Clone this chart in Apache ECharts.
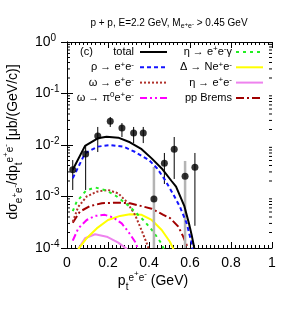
<!DOCTYPE html>
<html><head><meta charset="utf-8">
<script src="https://cdn.jsdelivr.net/npm/echarts@6/dist/echarts.min.js"></script>
<style>html,body{margin:0;padding:0;background:#fff}#c{width:300px;height:315px}</style>
</head><body><div id="c"></div>
<script>
const FONT = '"Liberation Sans", Arial, sans-serif';
// axis ticks
const xTicks = [0, 0.2, 0.4, 0.6, 0.8, 1];
const yTicks = [1e-4, 1e-3, 1e-2, 1e-1, 1];
const yMinorTicks = [2e-4,3e-4,4e-4,5e-4,6e-4,7e-4,8e-4,9e-4,
  2e-3,3e-3,4e-3,5e-3,6e-3,7e-3,8e-3,9e-3,
  2e-2,3e-2,4e-2,5e-2,6e-2,7e-2,8e-2,9e-2,
  2e-1,3e-1,4e-1,5e-1,6e-1,7e-1,8e-1,9e-1];
// measured data
const dataX    = [0.028,0.091,0.150,0.211,0.268,0.325,0.372,0.424,0.475,0.523,0.576,0.624];
const dataY    = [3.3e-3,6.7e-3,1.5e-2,2.9e-2,2.14e-2,1.71e-2,1.71e-2,8.9e-4,4.4e-3,8.3e-3,2.47e-3,3.7e-3];
const errLow   = [1.34e-3,1.34e-3,7.3e-3,2.24e-2,1.43e-2,1.09e-2,1.09e-2,8e-5,1.75e-3,2.19e-3,8e-5,2.7e-4];
const errHigh  = [5.1e-3,1.0e-2,2.24e-2,3.5e-2,2.67e-2,2.24e-2,2.24e-2,3.74e-3,7.0e-3,1.43e-2,4.9e-3,7.0e-3];
const errGray  = [0,0,0,0,0,0,0,1,0,0,1,0];
// model curves
const totalX = [0.028,0.088,0.150,0.193,0.250,0.307,0.364,0.413,0.462,0.510,0.532,0.572,0.595,0.608,0.623];
const totalY = [3.3e-3,9.6e-3,1.35e-2,1.45e-2,1.39e-2,1.13e-2,8.3e-3,5.5e-3,3.5e-3,2.0e-3,1.55e-3,6.6e-4,3.0e-4,1.8e-4,9e-5];
const rhoX = [0.028,0.088,0.150,0.210,0.275,0.330,0.400,0.440,0.478,0.520,0.551,0.584,0.608,0.614];
const rhoY = [2.26e-3,6.9e-3,9.3e-3,1.0e-2,9.3e-3,7.4e-3,5.1e-3,3.5e-3,2.1e-3,1.07e-3,6.3e-4,3.0e-4,1.24e-4,9e-5];
const etaGX = [0.028,0.047,0.093,0.137,0.194,0.243,0.307,0.372,0.420,0.462,0.475];
const etaGY = [5.2e-4,7.9e-4,1.3e-3,1.5e-3,1.3e-3,1.0e-3,6.3e-4,3.5e-4,2.1e-4,1.2e-4,9e-5];
const omegaX = [0.028,0.055,0.096,0.145,0.200,0.250,0.291,0.332,0.364,0.392,0.400];
const omegaY = [3.24e-4,6.3e-4,1.0e-3,1.24e-3,1.34e-3,1.15e-3,7.9e-4,4.4e-4,2.2e-4,1.15e-4,9e-5];
const bremsX = [0.028,0.063,0.112,0.170,0.242,0.307,0.364,0.413,0.470,0.503,0.543,0.567,0.587,0.592];
const bremsY = [3.1e-4,5.1e-4,6.5e-4,7.4e-4,7.6e-4,7.4e-4,6.5e-4,5.8e-4,4.4e-4,3.8e-4,2.6e-4,1.66e-4,1.06e-4,9e-5];
const omegaPiX = [0.028,0.055,0.096,0.137,0.185,0.226,0.267,0.299,0.332,0.350];
const omegaPiY = [1.39e-4,2.4e-4,3.5e-4,4.2e-4,4.4e-4,3.9e-4,3.0e-4,2.07e-4,1.32e-4,9e-5];
const deltaX = [0.055,0.096,0.145,0.200,0.259,0.307,0.364,0.413,0.462,0.502,0.522];
const deltaY = [9.5e-5,1.55e-4,2.4e-4,3.5e-4,4.2e-4,4.5e-4,4.4e-4,3.5e-4,2.24e-4,1.32e-4,9e-5];
const etaX = [0.055,0.088,0.137,0.194,0.250,0.293];
const etaY = [9.5e-5,1.55e-4,1.85e-4,1.66e-4,1.27e-4,9.5e-5];

const zip = (a, b) => a.map((v, i) => [v, b[i]]);

const styles = {
  total:   {color:'#000000', type:'solid', width:2},
  rho:     {color:'#1414ff', type:[4,3], width:2},
  omega:   {color:'#b0302a', type:[2,2], width:2},
  omegaPi: {color:'#ff00ff', type:[7,3,2,3,2,3], width:2},
  etaG:    {color:'#22ee22', type:[3,4], width:2},
  delta:   {color:'#ffff00', type:'solid', width:2},
  eta:     {color:'#ee82ee', type:'solid', width:2},
  brems:   {color:'#a00000', type:[8,3,2,3], width:2}
};

function lineSeries(name, xs, ys, st, z) {
  return {type:'line', name, data: zip(xs, ys), showSymbol:false, symbol:'none',
    lineStyle:{color:st.color, type:st.type, width:st.width}, itemStyle:{color:st.color},
    clip:true, z, animation:false, silent:true};
}

// rich text styles
const richLeg = {
  n: {fontSize:11, lineHeight:14, fontFamily:FONT, color:'#000'},
  s: {fontSize:8, lineHeight:8, verticalAlign:'top', fontFamily:FONT, color:'#000'}
};
const richAx = {
  n:  {fontSize:14, lineHeight:22, fontFamily:FONT, color:'#000'},
  sb: {fontSize:10, lineHeight:9, verticalAlign:'bottom', fontFamily:FONT, color:'#000'},
  sbs:{fontSize:8, lineHeight:7, verticalAlign:'bottom', padding:[0,0,5,0], fontFamily:FONT, color:'#000'},
  sp: {fontSize:10, lineHeight:9, verticalAlign:'top', padding:[3,0,0,0], fontFamily:FONT, color:'#000'},
  sps:{fontSize:8, lineHeight:7, verticalAlign:'top', fontFamily:FONT, color:'#000'}
};
const richTitle = {
  n:  {fontSize:10, lineHeight:16, fontFamily:FONT, color:'#000'},
  sb: {fontSize:7, lineHeight:7, verticalAlign:'bottom', padding:[0,0,1,0], fontFamily:FONT, color:'#000'},
  sbs:{fontSize:6, lineHeight:6, verticalAlign:'bottom', padding:[0,0,4,0], fontFamily:FONT, color:'#000'}
};

const legendItems = [
  {text:'{n|total}', st:styles.total, col:0, row:0},
  {text:'{n|ρ → e}{s|+}{n|e}{s|-}', st:styles.rho, col:0, row:1},
  {text:'{n|ω → e}{s|+}{n|e}{s|-}', st:styles.omega, col:0, row:2},
  {text:'{n|ω → π}{s|0}{n|e}{s|+}{n|e}{s|-}', st:styles.omegaPi, col:0, row:3},
  {text:'{n|η → e}{s|+}{n|e}{s|-}{n|γ}', st:styles.etaG, col:1, row:0},
  {text:'{n|Δ → Ne}{s|+}{n|e}{s|-}', st:styles.delta, col:1, row:1},
  {text:'{n|η → e}{s|+}{n|e}{s|-}', st:styles.eta, col:1, row:2},
  {text:'{n|pp Brems}', st:styles.brems, col:1, row:3}
];
const colTextRight = [134, 232], colLineX = [140, 236], rowY = [52, 67.3, 82.6, 98];
const graphics = [];
legendItems.forEach(it => {
  graphics.push({type:'text', x: colTextRight[it.col], y: rowY[it.row],
    style:{text: it.text, rich: richLeg, align:'right', verticalAlign:'middle', font:'11px '+FONT}});
  graphics.push({type:'line', shape:{x1: colLineX[it.col], y1: rowY[it.row], x2: colLineX[it.col]+27, y2: rowY[it.row]},
    style:{stroke: it.st.color, lineWidth: 2, lineDash: Array.isArray(it.st.type) ? it.st.type : null}});
});
graphics.push({type:'text', x:80, y:52, style:{text:'(c)', font:'11px '+FONT, fill:'#000', verticalAlign:'middle'}});
graphics.push({type:'text', x:169, y:23, style:{text:'{n|p + p, E=2.2 GeV, M}{sb|e}{sbs|+}{sb|e}{sbs|-}{n| > 0.45 GeV}', rich: richTitle, align:'center', verticalAlign:'middle'}});
graphics.push({type:'text', x:153, y:281, style:{text:'{n|p}{sb|t}{sp|e}{sps|+}{sp|e}{sps|-}{n| (GeV)}', rich: richAx, align:'center', verticalAlign:'middle'}});
graphics.push({type:'text', x:13, y:142, rotation: Math.PI/2,
  style:{text:'{n|dσ}{sb|e}{sbs|+}{sb|e}{sbs|-}{n|/dp}{sb|t}{sp|e}{sps|+}{sp|e}{sps|-}{n| [μb/(GeV/c)]}', rich: richAx, align:'center', verticalAlign:'middle'}});

const axisCommon = {
  axisLine:{show:true, lineStyle:{color:'#000', width:1}},
  splitLine:{show:false}
};

const option = {
  animation:false,
  backgroundColor:'#fff',
  textStyle:{fontFamily:FONT},
  grid:{left:67, top:42, right:28, bottom:67, containLabel:false, outerBoundsMode:'none'},
  xAxis:[
    Object.assign({type:'value', min:xTicks[0], max:xTicks[xTicks.length-1], interval:0.2, position:'bottom',
      axisTick:{show:true, inside:true, length:6, lineStyle:{color:'#000'}},
      minorTick:{show:true, splitNumber:10, length:3, lineStyle:{color:'#000'}},
      axisLabel:{show:true, fontSize:14, color:'#000', margin:8, fontFamily:FONT,
        formatter: v => String(+v.toFixed(1))}}, axisCommon),
    Object.assign({type:'value', min:0, max:1, interval:0.2, position:'top',
      axisTick:{show:true, inside:true, length:6, lineStyle:{color:'#000'}},
      minorTick:{show:true, splitNumber:10, length:3, lineStyle:{color:'#000'}},
      axisLabel:{show:false}}, axisCommon)
  ],
  yAxis:[
    Object.assign({type:'log', logBase:10, min:yTicks[0], max:yTicks[yTicks.length-1], position:'left',
      axisTick:{show:true, inside:true, length:6, lineStyle:{color:'#000'}},
      axisLabel:{show:true, align:'left', margin:32, color:'#000',
        formatter: v => '{b|10}{s|' + Math.round(Math.log10(v)) + '}',
        rich:{b:{fontSize:14, lineHeight:18, fontFamily:FONT, color:'#000'},
              s:{fontSize:10, lineHeight:10, verticalAlign:'top', fontFamily:FONT, color:'#000'}}}}, axisCommon),
    Object.assign({type:'log', logBase:10, min:1e-4, max:1, position:'right',
      axisTick:{show:true, inside:true, length:6, lineStyle:{color:'#000'}},
      axisLabel:{show:false}}, axisCommon)
  ],
  graphic: graphics,
  series:[
    {type:'custom', name:'yminor', data: yMinorTicks.map(v => [0, v]), encode:{x:0, y:1}, silent:true, clip:false, z:1,
      renderItem:(params, api) => {
        const v = api.value(1);
        const pL = api.coord([0, v]), pR = api.coord([1, v]);
        return {type:'group', children:[
          {type:'line', shape:{x1:pL[0], y1:pL[1], x2:pL[0]+3, y2:pL[1]}, style:{stroke:'#000', lineWidth:1}},
          {type:'line', shape:{x1:pR[0], y1:pR[1], x2:pR[0]-3, y2:pR[1]}, style:{stroke:'#000', lineWidth:1}}
        ]};
      }},
    lineSeries('pp Brems', bremsX, bremsY, styles.brems, 2),
    lineSeries('η → e+e-', etaX, etaY, styles.eta, 2),
    lineSeries('Δ → Ne+e-', deltaX, deltaY, styles.delta, 2),
    lineSeries('ω → π0e+e-', omegaPiX, omegaPiY, styles.omegaPi, 2),
    lineSeries('ω → e+e-', omegaX, omegaY, styles.omega, 2),
    lineSeries('η → e+e-γ', etaGX, etaGY, styles.etaG, 2),
    lineSeries('ρ → e+e-', rhoX, rhoY, styles.rho, 3),
    {type:'custom', name:'errors', data: dataX.map((x, i) => [x, errLow[i], errHigh[i], errGray[i]]),
      encode:{x:0, y:[1,2]}, silent:true, clip:true, z:3,
      renderItem:(params, api) => {
        const x = api.value(0), lo = api.value(1), hi = api.value(2), g = api.value(3);
        const p1 = api.coord([x, lo]), p2 = api.coord([x, hi]);
        return {type:'line', shape:{x1:p1[0], y1:p1[1], x2:p2[0], y2:p2[1]},
          style:{stroke: g ? '#b4b4b4' : '#000', lineWidth: g ? 2.5 : 1}};
      }},
    lineSeries('total', totalX, totalY, styles.total, 4),
    {type:'scatter', name:'data', data: zip(dataX, dataY), symbol:'circle', symbolSize:7,
      itemStyle:{color:'#000'}, z:5, silent:true}
  ]
};
const chart = echarts.init(document.getElementById('c'), null, {renderer:'canvas'});
chart.setOption(option);
</script>
</body></html>
